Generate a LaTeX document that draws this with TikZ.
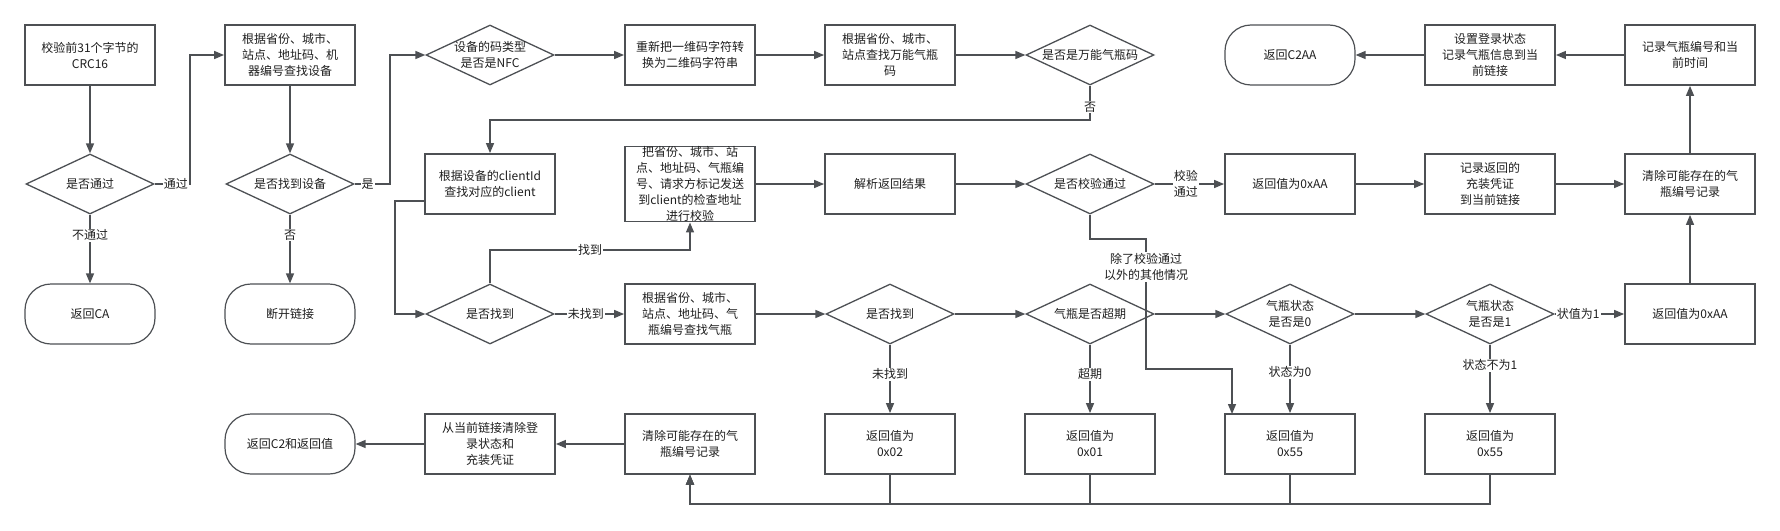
\documentclass[tikz,border=0pt]{standalone}
\usepackage{fontspec}
\newfontfamily\cjk{Noto Sans CJK SC}
\usetikzlibrary{shapes.geometric,arrows.meta}
\definecolor{ln}{RGB}{77,80,84}
\definecolor{tx}{RGB}{30,30,30}
\begin{document}
\begin{tikzpicture}[x=1pt,y=-1pt,
  every node/.style={font=\cjk\fontsize{12}{16}\selectfont, text=tx, align=center},
  box/.style={draw=ln, line width=1.8pt, minimum width=130pt, minimum height=60pt, inner sep=0pt},
  term/.style={draw=ln, line width=1.2pt, rounded corners=26pt, minimum width=130pt, minimum height=60pt, inner sep=0pt},
  dia/.style={draw=ln, line width=1.3pt, diamond, minimum width=128pt, minimum height=60pt, inner sep=0pt},
  arr/.style={draw=ln, line width=1.4pt, -{Triangle[length=10pt,width=8pt]}},
  lbl/.style={fill=white, inner sep=1pt},
]
\useasboundingbox (0,0) rectangle (1780,530);

% Row 1
\node[box] (b1) at (90,55) {校验前31个字节的\\CRC16};
\node[box] (b2) at (290,55) {根据省份、城市、\\站点、地址码、机\\器编号查找设备};
\node[dia] (d3) at (490,55) {};
\node (d3t) at (d3) {设备的码类型\\是否是NFC};
\node[box] (b4) at (690,55) {重新把一维码字符转\\换为二维码字符串};
\node[box] (b5) at (890,55) {根据省份、城市、\\站点查找万能气瓶\\码};
\node[dia] (d6) at (1090,55) {};
\node (d6t) at (d6) {是否是万能气瓶码};
\node[term] (t7) at (1290,55) {返回C2AA};
\node[box] (b8) at (1490,55) {设置登录状态\\记录气瓶信息到当\\前链接};
\node[box] (b9) at (1690,55) {记录气瓶编号和当\\前时间};

% Row 2
\node[dia] (d10) at (90,184) {};
\node (d10t) at (d10) {是否通过};
\node[dia] (d11) at (290,184) {};
\node (d11t) at (d11) {是否找到设备};
\node[box] (b12) at (490,184) {根据设备的clientId\\查找对应的client};
\node[box] (b13) at (690,184) {把省份、城市、站\\点、地址码、气瓶编\\号、请求方标记发送\\到client的检查地址\\进行校验};
\node[box] (b14) at (890,184) {解析返回结果};
\node[dia] (d15) at (1090,184) {};
\node (d15t) at (d15) {是否校验通过};
\node[box] (b16) at (1290,184) {返回值为0xAA};
\node[box] (b17) at (1490,184) {记录返回的\\充装凭证\\到当前链接};
\node[box] (b18) at (1690,184) {清除可能存在的气\\瓶编号记录};

% Row 3
\node[term] (t19) at (90,314) {返回CA};
\node[term] (t20) at (290,314) {断开链接};
\node[dia] (d21) at (490,314) {};
\node (d21t) at (d21) {是否找到};
\node[box] (b22) at (690,314) {根据省份、城市、\\站点、地址码、气\\瓶编号查找气瓶};
\node[dia] (d23) at (890,314) {};
\node (d23t) at (d23) {是否找到};
\node[dia] (d24) at (1090,314) {};
\node (d24t) at (d24) {气瓶是否超期};
\node[dia] (d25) at (1290,314) {};
\node (d25t) at (d25) {气瓶状态\\是否是0};
\node[dia] (d26) at (1490,314) {};
\node (d26t) at (d26) {气瓶状态\\是否是1};
\node[box] (b27) at (1690,314) {返回值为0xAA};

% Row 4
\node[term] (t28) at (290,444) {返回C2和返回值};
\node[box] (b29) at (490,444) {从当前链接清除登\\录状态和\\充装凭证};
\node[box] (b30) at (690,444) {清除可能存在的气\\瓶编号记录};
\node[box] (b31) at (890,444) {返回值为\\0x02};
\node[box] (b32) at (1090,444) {返回值为\\0x01};
\node[box] (b33) at (1290,444) {返回值为\\0x55};
\node[box] (b34) at (1490,444) {返回值为\\0x55};

% bend coordinates
\coordinate (c1) at (190,184);
\coordinate (c2) at (390,184);
\coordinate (c3) at (1090,120);
\coordinate (c4) at (395,201);
\coordinate (c5) at (490,250);
\coordinate (c6) at (1146,239);
\coordinate (c7) at (1146,369);
\coordinate (c8) at (1232,414);
\coordinate (bus) at (690,504);

% connectors
\draw[arr] (b1.south) -- (d10.north);
\draw[arr] (d10.east) -- node[lbl,pos=0.6]{通过} (c1) |- (b2.west);
\draw[arr] (d10.south) -- node[lbl,pos=0.3]{不通过} (t19.north);
\draw[arr] (b2.south) -- (d11.north);
\draw[arr] (d11.south) -- node[lbl,pos=0.3]{否} (t20.north);
\draw[arr] (d11.east) -- node[lbl,pos=0.37]{是} (c2) |- (d3.west);
\draw[arr] (d3.east) -- (b4.west);
\draw[arr] (b4.east) -- (b5.west);
\draw[arr] (b5.east) -- (d6.west);
\draw[arr] (d6.south) -- node[lbl,pos=0.63]{否} (c3) -| (b12.north);
\draw[arr] ([yshift=-17pt]b12.west) -- (c4) |- (d21.west);
\draw[arr] (d21.north) -- (c5) -| node[lbl,pos=0.25]{找到} (b13.south);
\draw[arr] (d21.east) -- node[lbl,pos=0.45]{未找到} (b22.west);
\draw[arr] (b13.east) -- (b14.west);
\draw[arr] (b14.east) -- (d15.west);
\draw[arr] (d15.east) -- node[lbl,pos=0.45]{校验\\通过} (b16.west);
\draw[arr] (b16.east) -- (b17.west);
\draw[arr] (b17.east) -- (b18.west);
\draw[arr] (b18.north) -- (b9.south);
\draw[arr] (b9.west) -- (b8.east);
\draw[arr] (b8.west) -- (t7.east);
\draw[arr] (d15.south) |- (c6) -- node[lbl,pos=0.215]{除了校验通过\\以外的其他情况} (c7) -| (c8);
\draw[arr] (b22.east) -- (d23.west);
\draw[arr] (d23.east) -- (d24.west);
\draw[arr] (d24.east) -- (d25.west);
\draw[arr] (d25.east) -- (d26.west);
\draw[arr] (d26.east) -- node[lbl,pos=0.34]{状值为1} (b27.west);
\draw[arr] (d23.south) -- node[lbl,pos=0.43]{未找到} (b31.north);
\draw[arr] (d24.south) -- node[lbl,pos=0.43]{超期} (b32.north);
\draw[arr] (d25.south) -- node[lbl,pos=0.4]{状态为0} (b33.north);
\draw[arr] (d26.south) -- node[lbl,pos=0.3]{状态不为1} (b34.north);
\draw[arr] (b27.north) -- (b18.south);
\draw[arr] (b31.south) |- (bus) -- (b30.south);
\draw[arr] (b32.south) |- (bus) -- (b30.south);
\draw[arr] (b33.south) |- (bus) -- (b30.south);
\draw[arr] (b34.south) |- (bus) -- (b30.south);
\draw[arr] (b30.west) -- (b29.east);
\draw[arr] (b29.west) -- (t28.east);
\end{tikzpicture}
\end{document}
